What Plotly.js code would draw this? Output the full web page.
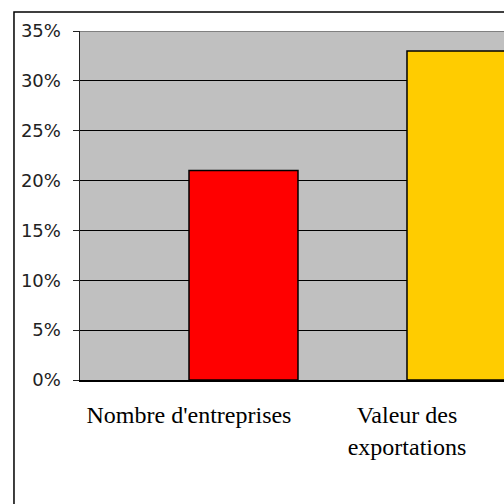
<!DOCTYPE html>
<html>
<head>
<meta charset="utf-8">
<script src="https://cdn.plot.ly/plotly-3.0.1.min.js"></script>
<style>html,body{margin:0;padding:0;background:#fff;}#chart{width:504px;height:504px;}</style>
</head>
<body>
<div id="chart"></div>
<script>
const categories = ["Nombre d'entreprises", "Valeur des<br>exportations"];
const values = [21, 33];
const barColors = ["#FF0000", "#FFCC00"];
const yTickVals = [0, 5, 10, 15, 20, 25, 30, 35];
const yTickText = ["0%", "5%", "10%", "15%", "20%", "25%", "30%", "35%"];

const trace = {
  type: 'bar',
  x: categories,
  y: values,
  offset: 0,
  width: 0.5,
  marker: {color: barColors, line: {color: '#000000', width: 1.5}},
  hoverinfo: 'none'
};

const layout = {
  width: 504, height: 504,
  margin: {l: 80, r: 0, t: 31, b: 124, pad: 0},
  paper_bgcolor: '#ffffff',
  plot_bgcolor: '#C0C0C0',
  showlegend: false,
  bargap: 0,
  xaxis: {
    type: 'category',
    range: [-0.5, 1.445],
    showgrid: false,
    showline: true, linecolor: '#000000', linewidth: 1.5,
    ticks: '',
    ticklabelstandoff: 13,
    tickfont: {family: 'Liberation Serif, Times New Roman, serif', size: 24, color: '#000000'},
    fixedrange: true
  },
  yaxis: {
    range: [0, 35],
    tickvals: yTickVals,
    ticktext: yTickText,
    showgrid: true, gridcolor: '#000000', gridwidth: 1,
    zeroline: false,
    showline: true, linecolor: '#222222', linewidth: 1.5,
    ticks: 'outside', ticklen: 6, tickcolor: '#222222', tickwidth: 1,
    ticklabelstandoff: 8,
    tickfont: {family: 'DejaVu Sans, Verdana, sans-serif', size: 18, color: '#222222'},
    fixedrange: true
  },
  shapes: [
    {type: 'line', xref: 'paper', yref: 'y', x0: 0, x1: 1.2, y0: 35, y1: 35, line: {color: '#808080', width: 2}},
    {type: 'rect', xref: 'paper', yref: 'paper', x0: -0.1557, x1: 1.3, y0: -1, y1: 1.0544, line: {color: '#000000', width: 1.5}, layer: 'above'}
  ]
};

Plotly.newPlot('chart', [trace], layout, {displayModeBar: false, staticPlot: true});
</script>
</body>
</html>
